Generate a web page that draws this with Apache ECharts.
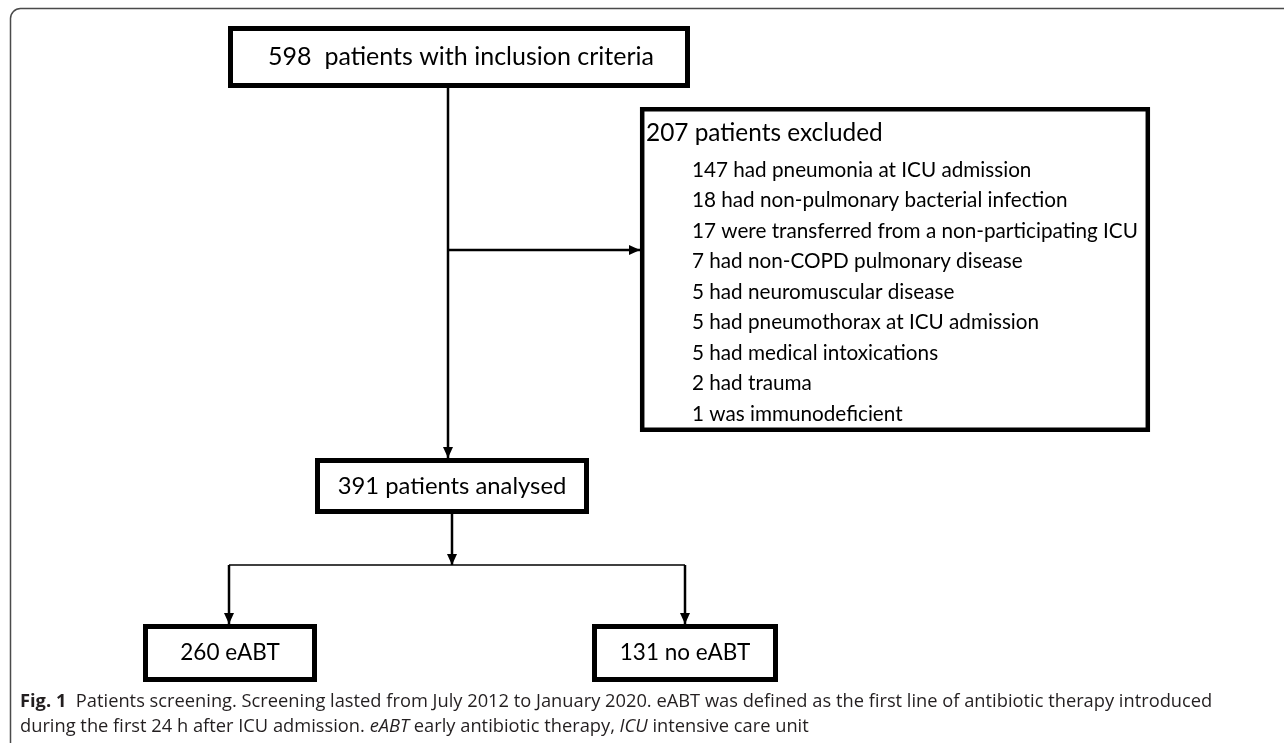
<!DOCTYPE html>
<html>
<head>
<meta charset="utf-8">
<script src="https://cdn.jsdelivr.net/npm/echarts@6/dist/echarts.min.js"></script>
<style>
  html, body { margin: 0; padding: 0; background: #fff; }
  #main { width: 1284px; height: 743px; }
</style>
</head>
<body>
<div id="main"></div>
<script>
// flow chart contents
const includedLabel = '598  patients with inclusion criteria';
const excludedTitle = '207 patients excluded';
const excludedReasons = [
  '147 had pneumonia at ICU admission',
  '18 had non-pulmonary bacterial infection',
  '17 were transferred from a non-participating ICU',
  '7 had non-COPD pulmonary disease',
  '5 had neuromuscular disease',
  '5 had pneumothorax at ICU admission',
  '5 had medical intoxications',
  '2 had trauma',
  '1 was immunodeficient'
];
const analysedLabel = '391 patients analysed';
const groupLabels = ['260 eABT', '131 no eABT'];
const captionLine1 = '{b|Fig. 1}  Patients screening. Screening lasted from July 2012 to January 2020. eABT was defined as the first line of antibiotic therapy introduced';
const captionLine2 = 'during the first 24 h after ICU admission. {i|eABT} early antibiotic therapy, {i|ICU} intensive care unit';

const boxFont = 'Lato, "Open Sans", sans-serif';
const capFont = '"Open Sans", sans-serif';

function box(x, y, w, h, lw) {
  return {
    type: 'rect',
    shape: { x: x, y: y, width: w, height: h },
    style: { fill: '#fff', stroke: '#000', lineWidth: lw || 5 }
  };
}
function line(x1, y1, x2, y2, lw) {
  return {
    type: 'line',
    shape: { x1: x1, y1: y1, x2: x2, y2: y2 },
    style: { stroke: '#000', lineWidth: lw || 2.5 }
  };
}
// arrow head, tip at (x, y)
function head(x, y, dir) {
  let pts;
  if (dir === 'down') pts = [[x - 5, y - 11], [x + 5, y - 11], [x, y]];
  else pts = [[x - 11, y - 5], [x - 11, y + 5], [x, y]];
  return { type: 'polygon', shape: { points: pts }, style: { fill: '#000' } };
}
function label(text, x, y, size, align) {
  return {
    type: 'text',
    x: x, y: y,
    style: {
      text: text, fill: '#000', font: size + 'px ' + boxFont,
      align: align || 'center', verticalAlign: 'middle'
    }
  };
}

const elements = [];
// outer frame, only top and left edges fall inside the picture
elements.push({
  type: 'rect',
  shape: { x: 10.5, y: 8.5, width: 1300, height: 780, r: 10 },
  style: { fill: 'none', stroke: '#4a4a4a', lineWidth: 1.5 }
});

// connectors
elements.push(line(448, 88, 448, 458));
elements.push(head(448, 458, 'down'));
elements.push(line(448, 250, 640, 250));
elements.push(head(640, 250, 'right'));
elements.push(line(452, 514, 452, 565));
elements.push(head(452, 565, 'down'));
elements.push(line(229, 565, 685, 565, 1.6));
elements.push(line(229, 565, 229, 624));
elements.push(head(229, 624, 'down'));
elements.push(line(685, 565, 685, 624));
elements.push(head(685, 624, 'down'));

// boxes
elements.push(box(230.5, 28.5, 457, 57));
elements.push(label(includedLabel, 461, 57, 25));

elements.push(box(642.2, 109.2, 505.6, 320.6, 4.5));
elements.push(label(excludedTitle, 646, 133, 24.4, 'left'));
excludedReasons.forEach(function (t, i) {
  elements.push(label(t, 692, 170 + i * 30.5, 20.7, 'left'));
});

elements.push(box(317.5, 460.5, 269, 51));
elements.push(label(analysedLabel, 452, 486, 23.8));

elements.push(box(145.5, 626.5, 169, 53));
elements.push(label(groupLabels[0], 230, 653, 22.5));
elements.push(box(594.5, 626.5, 181, 53));
elements.push(label(groupLabels[1], 685, 653, 22.5));

// caption
const capRich = {
  b: { fontWeight: 'bold', fontSize: 18.3, fontFamily: capFont, fill: '#231f20' },
  i: { fontStyle: 'italic', fontSize: 18.3, fontFamily: capFont, fill: '#231f20' }
};
elements.push({
  type: 'text', x: 20, y: 702,
  style: { text: captionLine1, rich: capRich, font: '18.3px ' + capFont, fill: '#231f20', verticalAlign: 'middle' }
});
elements.push({
  type: 'text', x: 20, y: 727,
  style: { text: captionLine2, rich: capRich, font: '18.3px ' + capFont, fill: '#231f20', verticalAlign: 'middle' }
});

const chart = echarts.init(document.getElementById('main'));
chart.setOption({
  backgroundColor: '#fff',
  animation: false,
  graphic: { elements: elements }
});
</script>
</body>
</html>
